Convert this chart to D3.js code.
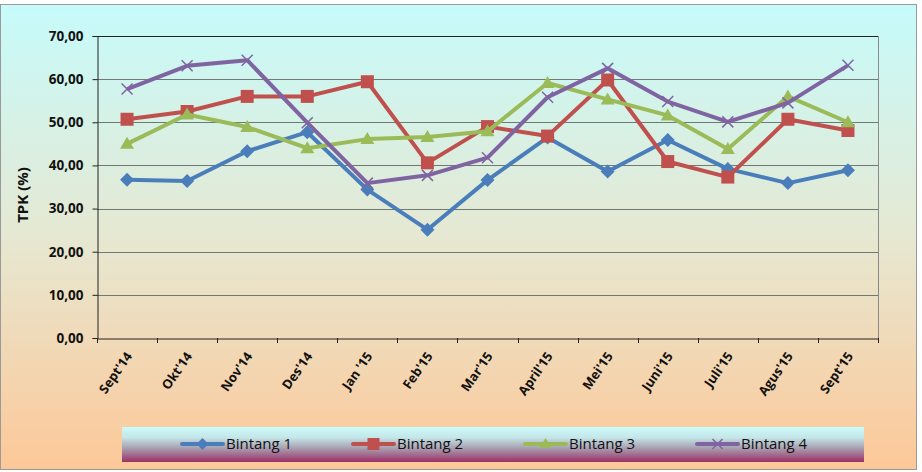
<!DOCTYPE html>
<html><head><meta charset="utf-8">
<script src="https://cdn.jsdelivr.net/npm/d3@7"></script>
<style>body{margin:0;background:#fff}svg{display:block}</style>
</head><body><svg id="c" width="922" height="472"></svg>
<script>
const categories = ["Sept'14","Okt'14","Nov'14","Des'14","Jan '15","Feb'15","Mar'15","April'15","Mei'15","Juni'15","Juli'15","Agus'15","Sept'15"];
const bintang1 = [36.7,36.4,43.3,47.7,34.4,25.1,36.6,46.5,38.6,45.9,39.2,35.9,38.9];
const bintang2 = [50.7,52.5,56.0,56.0,59.4,40.6,49.0,46.8,59.8,40.9,37.3,50.7,48.1];
const bintang3 = [45.0,51.8,48.9,44.0,46.1,46.6,47.9,59.1,55.3,51.6,43.8,56.0,50.0];
const bintang4 = [57.7,63.1,64.4,49.9,35.9,37.7,41.8,55.8,62.5,54.8,50.1,54.5,63.2];
const seriesNames = ["Bintang 1","Bintang 2","Bintang 3","Bintang 4"];
const yTicks = [0,10,20,30,40,50,60,70];
const yTitle = "TPK (%)";

const series = [
  {name: seriesNames[0], values: bintang1, color: "#4a7ebb", marker: "diamond"},
  {name: seriesNames[1], values: bintang2, color: "#c0504d", marker: "square"},
  {name: seriesNames[2], values: bintang3, color: "#9bbb59", marker: "triangle"},
  {name: seriesNames[3], values: bintang4, color: "#8064a2", marker: "x"}
];

const svg = d3.select("#c");
const defs = svg.append("defs");
const bg = defs.append("linearGradient").attr("id","bg").attr("x1",0).attr("y1",0).attr("x2",0).attr("y2",1);
bg.append("stop").attr("offset","0%").attr("stop-color","#c6fbfb");
bg.append("stop").attr("offset","50%").attr("stop-color","#e6e8d2");
bg.append("stop").attr("offset","100%").attr("stop-color","#fdc898");
const lg = defs.append("linearGradient").attr("id","lg").attr("x1",0).attr("y1",0).attr("x2",0).attr("y2",1);
lg.append("stop").attr("offset","0%").attr("stop-color","#cbfbfb");
lg.append("stop").attr("offset","30%").attr("stop-color","#c4e6e8");
lg.append("stop").attr("offset","60%").attr("stop-color","#a8a0b0");
lg.append("stop").attr("offset","100%").attr("stop-color","#9c3068");

svg.append("rect").attr("x",0.5).attr("y",4.5).attr("width",916).attr("height",465)
  .attr("fill","url(#bg)").attr("stroke","#9a9a9a").attr("stroke-width",1);

const m = {left:97, top:36, right:878, bottom:338};
const x = d3.scaleBand().domain(categories).range([m.left, m.right]);
const y = d3.scaleLinear().domain([0,70]).range([m.bottom, m.top]);

// gridlines
svg.append("g").selectAll("line").data(yTicks.filter(d=>d>0)).join("line")
  .attr("x1",m.left).attr("x2",m.right)
  .attr("y1",d=>Math.round(y(d))+0.5).attr("y2",d=>Math.round(y(d))+0.5)
  .attr("stroke",d=>d===70?"#222":"#6f7a78").attr("stroke-width",1);
// right border
svg.append("line").attr("x1",m.right+0.5).attr("x2",m.right+0.5).attr("y1",m.top).attr("y2",m.bottom)
  .attr("stroke","#8a8a8a");

const font = "'Open Sans', 'Noto Sans', sans-serif";
// y axis
const yAxis = svg.append("g").attr("transform",`translate(${m.left+0.5},0)`)
  .call(d3.axisLeft(y).tickValues(yTicks).tickSize(5).tickPadding(9)
    .tickFormat(d=>d3.format(".2f")(d).replace(".",",")));
yAxis.select(".domain").attr("stroke","#222");
yAxis.selectAll(".tick line").attr("stroke","#222");
yAxis.selectAll("text").attr("font-family",font).attr("font-weight","bold").attr("font-size","13.5px").attr("fill","#111");

// x axis
const xAxis = svg.append("g").attr("transform",`translate(0,${m.bottom+0.5})`)
  .call(d3.axisBottom(x).tickSize(0).tickPadding(0));
xAxis.select(".domain").attr("stroke","#222");
xAxis.selectAll(".tick line").remove();
// tick marks at band edges
svg.append("g").selectAll("line").data(d3.range(categories.length+1)).join("line")
  .attr("x1",i=>Math.round(m.left + i*x.step())+0.5).attr("x2",i=>Math.round(m.left + i*x.step())+0.5)
  .attr("y1",m.bottom).attr("y2",m.bottom+5).attr("stroke","#222");
xAxis.selectAll(".tick text")
  .attr("font-family",font).attr("font-weight","bold").attr("font-size","13px").attr("fill","#111")
  .attr("text-anchor","end").attr("dy","0.35em")
  .attr("transform","translate(2,15) rotate(-55)");

// y title
svg.append("text").attr("transform","translate(28,195) rotate(-90)")
  .attr("text-anchor","middle").attr("font-family",font).attr("font-weight","bold")
  .attr("font-size","15px").attr("fill","#111").text(yTitle);

// lines
const line = d3.line().x((d,i)=>x(categories[i])+x.bandwidth()/2).y(d=>y(d));
function markerPath(type, s) {
  const h = s/2;
  if (type==="diamond") return `M0,${-h-1}L${h+1},0L0,${h+1}L${-h-1},0Z`;
  if (type==="square") return `M${-h},${-h}H${h}V${h}H${-h}Z`;
  if (type==="triangle") return `M0,${-h-1}L${h+1},${h-1}L${-h-1},${h-1}Z`;
  return `M${-h},${-h}L${h},${h}M${h},${-h}L${-h},${h}`;
}
series.forEach(s=>{
  svg.append("path").datum(s.values).attr("d",line).attr("fill","none")
    .attr("stroke",s.color).attr("stroke-width",4).attr("stroke-linejoin","round");
  svg.append("g").selectAll("path").data(s.values).join("path")
    .attr("transform",(d,i)=>`translate(${x(categories[i])+x.bandwidth()/2},${y(d)})`)
    .attr("d",markerPath(s.marker, s.marker==="square"?13:(s.marker==="x"?11:12)))
    .attr("fill",s.marker==="x"?"none":s.color)
    .attr("stroke",s.color).attr("stroke-width",s.marker==="x"?1.5:0);
});

// legend
svg.append("rect").attr("x",122).attr("y",427).attr("width",742).attr("height",35).attr("fill","url(#lg)");
const legX = [182, 353, 525, 697];
series.forEach((s,i)=>{
  const g = svg.append("g").attr("transform",`translate(${legX[i]},444)`);
  g.append("line").attr("x1",0).attr("x2",41).attr("stroke",s.color).attr("stroke-width",4).attr("stroke-linecap","round");
  g.append("path").attr("transform","translate(20.5,0)")
    .attr("d",markerPath(s.marker, s.marker==="square"?12:(s.marker==="x"?10:10)))
    .attr("fill",s.marker==="x"?"none":s.color).attr("stroke",s.color).attr("stroke-width",s.marker==="x"?1.5:0);
  g.append("text").attr("x",44).attr("dy","0.35em").attr("font-family",font)
    .attr("font-size","15px").attr("fill","#111").text(s.name);
});
</script></body></html>
